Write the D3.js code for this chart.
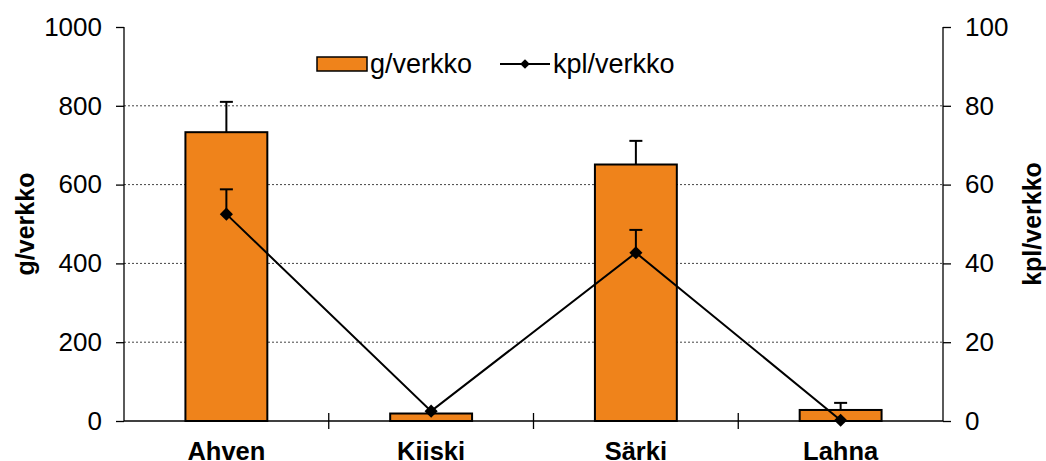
<!DOCTYPE html>
<html>
<head>
<meta charset="utf-8">
<script src="https://cdn.jsdelivr.net/npm/d3@7"></script>
<style>
  body { margin: 0; background: #fff; }
  text { font-family: "Liberation Sans", Arial, sans-serif; fill: #000; }
</style>
</head>
<body>
<div id="chart"></div>
<script>
var categories = ["Ahven", "Kiiski", "Särki", "Lahna"];
var gPerNet = [733, 19, 651, 28];
var gErr = [77, 0, 60, 18];
var kplPerNet = [52.5, 2.5, 42.7, 0.2];
var kplErr = [6.3, 0, 5.8, 0];
var leftTicks = [0, 200, 400, 600, 800, 1000];
var rightTicks = [0, 20, 40, 60, 80, 100];

var W = 1046, H = 461;
var margin = { top: 27, right: 103, bottom: 40, left: 124 };
var width = W - margin.left - margin.right,
  height = H - margin.top - margin.bottom;

var svg = d3.select("#chart").append("svg")
  .attr("width", W).attr("height", H);
var g = svg.append("g")
  .attr("transform", "translate(" + margin.left + "," + margin.top + ")");

var x = d3.scaleBand().domain(categories).range([0, width]).paddingInner(0.6).paddingOuter(0.3);
var xc = d3.scaleBand().domain(categories).range([0, width]);
var yL = d3.scaleLinear().domain([0, 1000]).range([height, 0]);
var yR = d3.scaleLinear().domain([0, 100]).range([height, 0]);

// gridlines
g.selectAll(".grid").data(leftTicks.filter(function (d) { return d > 0 && d < 1000; }))
  .enter().append("line")
  .attr("x1", 0).attr("x2", width)
  .attr("y1", function (d) { return yL(d); }).attr("y2", function (d) { return yL(d); })
  .style("stroke", "#444").style("stroke-width", 1).style("stroke-dasharray", "2,2");

var rows = categories.map(function (c, i) {
  return { cat: c, g: gPerNet[i], ge: gErr[i], k: kplPerNet[i], ke: kplErr[i] };
});

// bars
g.selectAll(".bar").data(rows).enter().append("rect")
  .attr("x", function (d) { return x(d.cat); })
  .attr("width", x.bandwidth())
  .attr("y", function (d) { return yL(d.g); })
  .attr("height", function (d) { return height - yL(d.g); })
  .style("fill", "#EF831B").style("stroke", "#000").style("stroke-width", 2);

function cx(d) { return xc(d.cat) + xc.bandwidth() / 2; }

function errBars(data, scale, val, err) {
  var e = g.append("g").selectAll("g").data(data.filter(function (d) { return err(d) > 0; })).enter().append("g");
  e.append("line")
    .attr("x1", cx).attr("x2", cx)
    .attr("y1", function (d) { return scale(val(d)); })
    .attr("y2", function (d) { return scale(val(d) + err(d)); })
    .style("stroke", "#000").style("stroke-width", 2);
  e.append("line")
    .attr("x1", function (d) { return cx(d) - 6.5; }).attr("x2", function (d) { return cx(d) + 6.5; })
    .attr("y1", function (d) { return scale(val(d) + err(d)); })
    .attr("y2", function (d) { return scale(val(d) + err(d)); })
    .style("stroke", "#000").style("stroke-width", 2);
}
errBars(rows, yL, function (d) { return d.g; }, function (d) { return d.ge; });
errBars(rows, yR, function (d) { return d.k; }, function (d) { return d.ke; });

// line
g.append("path")
  .datum(rows)
  .attr("d", d3.line().x(cx).y(function (d) { return yR(d.k); }))
  .style("fill", "none").style("stroke", "#000").style("stroke-width", 2);

var diamond = d3.symbol().type(d3.symbolDiamond2).size(110);
g.selectAll(".mk").data(rows).enter().append("path")
  .attr("d", diamond)
  .attr("transform", function (d) { return "translate(" + cx(d) + "," + yR(d.k) + ")"; })
  .style("fill", "#000");

// axes
var axL = g.append("g").call(d3.axisLeft(yL).tickValues(leftTicks).tickFormat(d3.format("d")).tickSize(8).tickPadding(14));
var axR = g.append("g").attr("transform", "translate(" + width + ",0)")
  .call(d3.axisRight(yR).tickValues(rightTicks).tickFormat(d3.format("d")).tickSize(8).tickPadding(14));
[axL, axR].forEach(function (a) {
  a.select(".domain").attr("d", "M0,0V" + height).style("stroke", "#000").style("stroke-width", 1.3);
  a.selectAll(".tick line").style("stroke", "#000").style("stroke-width", 1.3);
  a.selectAll("text").style("font-size", "26px").style("font-family", "Liberation Sans, Arial, sans-serif").attr("fill", "#222");
});

// x axis
g.append("line").attr("x1", 0).attr("x2", width).attr("y1", height).attr("y2", height)
  .style("stroke", "#000").style("stroke-width", 1.3);
g.selectAll(".xt").data(categories.slice(1)).enter().append("line")
  .attr("x1", function (d) { return xc(d); }).attr("x2", function (d) { return xc(d); })
  .attr("y1", height - 8).attr("y2", height + 8)
  .style("stroke", "#000").style("stroke-width", 1.3);
g.selectAll(".xl").data(categories).enter().append("text")
  .attr("x", function (d) { return xc(d) + xc.bandwidth() / 2; })
  .attr("y", height + 39)
  .attr("text-anchor", "middle")
  .style("font-size", "25.5px").style("font-weight", "bold")
  .text(function (d) { return d; });

// axis titles
svg.append("text")
  .attr("transform", "translate(34," + (margin.top + height / 2) + ") rotate(-90)")
  .attr("text-anchor", "middle")
  .style("font-size", "25px").style("font-weight", "bold")
  .text("g/verkko");
svg.append("text")
  .attr("transform", "translate(1041," + (margin.top + height / 2) + ") rotate(-90)")
  .attr("text-anchor", "middle")
  .style("font-size", "25px").style("font-weight", "bold")
  .text("kpl/verkko");

// legend
var lg = svg.append("g");
lg.append("rect").attr("x", 317).attr("y", 57).attr("width", 50).attr("height", 14)
  .style("fill", "#EF831B").style("stroke", "#000").style("stroke-width", 1.5);
lg.append("text").attr("x", 370).attr("y", 73).style("font-size", "27px").text("g/verkko");
lg.append("line").attr("x1", 500).attr("x2", 550).attr("y1", 64).attr("y2", 64)
  .style("stroke", "#000").style("stroke-width", 2);
lg.append("path").attr("d", d3.symbol().type(d3.symbolDiamond2).size(60))
  .attr("transform", "translate(525,64)").style("fill", "#000");
lg.append("text").attr("x", 553).attr("y", 73).style("font-size", "27px").text("kpl/verkko");
</script>
</body>
</html>
